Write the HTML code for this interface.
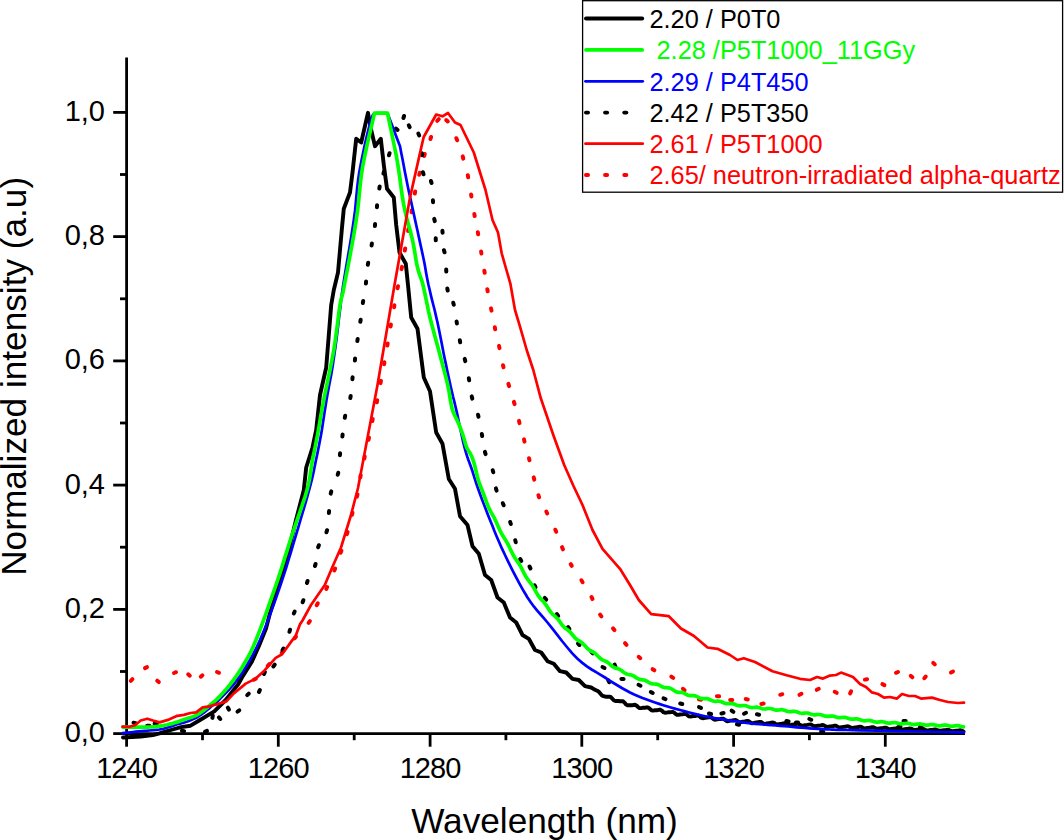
<!DOCTYPE html>
<html><head><meta charset="utf-8"><title>chart</title>
<style>
html,body{margin:0;padding:0;background:#fff;}
body{width:1064px;height:840px;position:relative;overflow:hidden;font-family:"Liberation Sans",sans-serif;color:#000;}
.t{position:absolute;white-space:pre;line-height:1;}
.xt{font-size:29px;top:754.4px;width:100px;text-align:center;letter-spacing:-0.9px;}
.yt{font-size:29px;left:0;width:105px;text-align:right;}
.lg{font-size:25.33px;left:649.5px;}
</style></head><body>
<svg width="1064" height="840" viewBox="0 0 1064 840" style="position:absolute;left:0;top:0"><g stroke="#000" stroke-width="2.8" fill="none"><line x1="126.6" y1="57.4" x2="126.6" y2="735.1"/><line x1="125.1" y1="733.6" x2="965" y2="733.6"/><line x1="126.6" y1="733.6" x2="126.6" y2="746.7"/><line x1="278.3" y1="733.6" x2="278.3" y2="746.7"/><line x1="430.1" y1="733.6" x2="430.1" y2="746.7"/><line x1="581.8" y1="733.6" x2="581.8" y2="746.7"/><line x1="733.6" y1="733.6" x2="733.6" y2="746.7"/><line x1="885.3" y1="733.6" x2="885.3" y2="746.7"/><line x1="202.5" y1="733.6" x2="202.5" y2="740.2"/><line x1="354.2" y1="733.6" x2="354.2" y2="740.2"/><line x1="505.9" y1="733.6" x2="505.9" y2="740.2"/><line x1="657.7" y1="733.6" x2="657.7" y2="740.2"/><line x1="809.4" y1="733.6" x2="809.4" y2="740.2"/><line x1="113.2" y1="733.6" x2="126.6" y2="733.6"/><line x1="113.2" y1="609.4" x2="126.6" y2="609.4"/><line x1="113.2" y1="485.1" x2="126.6" y2="485.1"/><line x1="113.2" y1="360.9" x2="126.6" y2="360.9"/><line x1="113.2" y1="236.6" x2="126.6" y2="236.6"/><line x1="113.2" y1="112.4" x2="126.6" y2="112.4"/><line x1="120" y1="671.5" x2="126.6" y2="671.5"/><line x1="120" y1="547.2" x2="126.6" y2="547.2"/><line x1="120" y1="423.0" x2="126.6" y2="423.0"/><line x1="120" y1="298.8" x2="126.6" y2="298.8"/><line x1="120" y1="174.5" x2="126.6" y2="174.5"/></g><g stroke="#ff0000" stroke-width="4.0" stroke-linecap="round"><line x1="130.8" y1="680.8" x2="132.4" y2="679.2"/><line x1="145.0" y1="668.1" x2="147.0" y2="667.1"/><line x1="157.2" y1="680.7" x2="158.8" y2="682.1"/><line x1="174.0" y1="673.0" x2="176.0" y2="672.2"/><line x1="188.2" y1="674.3" x2="189.8" y2="675.7"/><line x1="200.8" y1="676.7" x2="202.4" y2="675.3"/><line x1="217.0" y1="672.0" x2="219.0" y2="672.8"/><line x1="237.4" y1="679.8" x2="239.6" y2="680.2"/><line x1="253.8" y1="679.7" x2="255.7" y2="678.8"/><line x1="267.7" y1="665.8" x2="269.3" y2="664.2"/><line x1="281.7" y1="652.8" x2="283.3" y2="651.2"/><line x1="294.5" y1="638.3" x2="296.0" y2="636.7"/><line x1="308.6" y1="622.9" x2="309.9" y2="621.1"/><line x1="316.7" y1="605.2" x2="317.8" y2="603.3"/><line x1="326.3" y1="589.0" x2="327.2" y2="587.0"/><line x1="334.3" y1="570.5" x2="335.2" y2="568.5"/><line x1="340.6" y1="552.8" x2="341.4" y2="550.7"/><line x1="346.9" y1="534.1" x2="347.6" y2="531.9"/><line x1="352.0" y1="514.8" x2="352.5" y2="512.7"/><line x1="357.0" y1="496.6" x2="357.5" y2="494.4"/><line x1="360.3" y1="477.3" x2="360.7" y2="475.2"/><line x1="364.3" y1="458.6" x2="364.7" y2="456.4"/><line x1="368.5" y1="439.8" x2="369.0" y2="437.7"/><line x1="372.3" y1="421.1" x2="372.7" y2="418.9"/><line x1="376.8" y1="402.3" x2="377.2" y2="400.2"/><line x1="380.5" y1="383.1" x2="381.0" y2="380.9"/><line x1="384.1" y1="364.3" x2="384.4" y2="362.2"/><line x1="387.3" y1="345.6" x2="387.7" y2="343.4"/><line x1="390.6" y1="326.6" x2="390.9" y2="324.4"/><line x1="394.1" y1="307.3" x2="394.4" y2="305.2"/><line x1="397.5" y1="288.3" x2="398.0" y2="286.2"/><line x1="401.5" y1="269.1" x2="402.0" y2="266.9"/><line x1="404.8" y1="250.6" x2="405.2" y2="248.4"/><line x1="408.1" y1="231.1" x2="408.4" y2="228.9"/><line x1="411.6" y1="212.3" x2="411.9" y2="210.2"/><line x1="414.8" y1="193.6" x2="415.2" y2="191.4"/><line x1="419.2" y1="174.8" x2="419.8" y2="172.7"/><line x1="424.2" y1="156.0" x2="424.8" y2="154.0"/><line x1="430.4" y1="139.0" x2="431.1" y2="137.0"/><line x1="437.2" y1="120.8" x2="438.8" y2="119.2"/><line x1="446.2" y1="120.0" x2="447.8" y2="121.5"/><line x1="456.3" y1="138.2" x2="457.2" y2="140.3"/><line x1="462.7" y1="156.4" x2="463.3" y2="158.6"/><line x1="467.8" y1="175.2" x2="468.2" y2="177.3"/><line x1="471.1" y1="194.4" x2="471.4" y2="196.6"/><line x1="474.3" y1="213.9" x2="474.7" y2="216.1"/><line x1="477.8" y1="232.2" x2="478.2" y2="234.3"/><line x1="481.1" y1="251.4" x2="481.4" y2="253.6"/><line x1="484.3" y1="270.7" x2="484.7" y2="272.8"/><line x1="487.3" y1="289.2" x2="487.7" y2="291.3"/><line x1="491.0" y1="308.4" x2="491.5" y2="310.6"/><line x1="494.8" y1="327.2" x2="495.2" y2="329.3"/><line x1="499.0" y1="345.9" x2="499.5" y2="348.1"/><line x1="503.0" y1="365.2" x2="503.5" y2="367.3"/><line x1="508.4" y1="383.9" x2="509.1" y2="386.1"/><line x1="513.9" y1="401.9" x2="514.6" y2="404.1"/><line x1="519.0" y1="420.9" x2="519.5" y2="423.1"/><line x1="524.0" y1="439.4" x2="524.5" y2="441.6"/><line x1="529.0" y1="458.2" x2="529.5" y2="460.3"/><line x1="533.7" y1="477.4" x2="534.3" y2="479.6"/><line x1="538.4" y1="495.2" x2="539.1" y2="497.3"/><line x1="546.3" y1="511.5" x2="547.2" y2="513.5"/><line x1="555.3" y1="529.7" x2="556.2" y2="531.8"/><line x1="562.0" y1="547.2" x2="563.0" y2="549.3"/><line x1="570.7" y1="564.1" x2="571.8" y2="565.9"/><line x1="581.4" y1="580.3" x2="582.6" y2="582.2"/><line x1="591.5" y1="597.0" x2="592.5" y2="599.0"/><line x1="600.1" y1="614.6" x2="601.4" y2="616.4"/><line x1="613.0" y1="628.4" x2="614.5" y2="630.1"/><line x1="625.0" y1="643.2" x2="626.5" y2="644.8"/><line x1="638.7" y1="656.8" x2="640.3" y2="658.2"/><line x1="652.6" y1="669.2" x2="654.4" y2="670.3"/><line x1="671.3" y1="676.6" x2="673.2" y2="677.9"/><line x1="682.9" y1="688.8" x2="684.6" y2="690.2"/><line x1="698.9" y1="699.3" x2="701.1" y2="699.7"/><line x1="716.9" y1="696.2" x2="719.1" y2="696.3"/><line x1="730.2" y1="699.9" x2="732.3" y2="700.1"/><line x1="745.7" y1="699.1" x2="747.8" y2="699.4"/><line x1="761.4" y1="703.9" x2="763.6" y2="703.6"/><line x1="780.2" y1="694.8" x2="782.3" y2="694.2"/><line x1="799.5" y1="694.8" x2="801.5" y2="693.8"/><line x1="816.8" y1="689.8" x2="818.8" y2="688.8"/><line x1="834.7" y1="691.8" x2="836.7" y2="692.8"/><line x1="850.1" y1="693.4" x2="851.1" y2="691.4"/><line x1="864.9" y1="679.6" x2="867.1" y2="679.2"/><line x1="882.4" y1="684.1" x2="884.4" y2="685.1"/><line x1="896.0" y1="672.8" x2="898.0" y2="672.0"/><line x1="910.8" y1="675.9" x2="912.4" y2="677.3"/><line x1="924.3" y1="678.2" x2="925.7" y2="676.6"/><line x1="933.2" y1="662.8" x2="934.8" y2="664.4"/><line x1="951.0" y1="672.5" x2="953.0" y2="671.5"/></g><g stroke="#000" stroke-width="4.0" stroke-linecap="round"><line x1="133.5" y1="722.7" x2="135.7" y2="723.1"/><line x1="147.1" y1="725.7" x2="149.3" y2="725.7"/><line x1="154.6" y1="723.6" x2="156.8" y2="724.0"/><line x1="181.9" y1="730.7" x2="184.1" y2="731.1"/><line x1="205.0" y1="731.9" x2="207.0" y2="730.9"/><line x1="212.4" y1="717.9" x2="212.8" y2="715.7"/><line x1="218.9" y1="717.4" x2="220.3" y2="719.0"/><line x1="227.8" y1="707.6" x2="229.0" y2="709.6"/><line x1="237.5" y1="711.6" x2="239.3" y2="710.4"/><line x1="247.2" y1="695.2" x2="248.8" y2="693.6"/><line x1="258.9" y1="692.0" x2="259.9" y2="690.0"/><line x1="263.9" y1="674.0" x2="264.9" y2="672.0"/><line x1="273.3" y1="666.5" x2="274.7" y2="664.7"/><line x1="282.5" y1="650.5" x2="283.5" y2="648.5"/><line x1="289.4" y1="631.8" x2="290.1" y2="629.7"/><line x1="293.8" y1="613.5" x2="294.7" y2="611.5"/><line x1="302.6" y1="602.3" x2="303.4" y2="600.2"/><line x1="306.9" y1="583.0" x2="307.6" y2="581.0"/><line x1="314.9" y1="566.0" x2="315.6" y2="564.0"/><line x1="318.1" y1="547.3" x2="318.9" y2="545.2"/><line x1="326.4" y1="532.3" x2="327.1" y2="530.2"/><line x1="328.9" y1="513.1" x2="329.1" y2="510.9"/><line x1="330.7" y1="493.6" x2="331.3" y2="491.4"/><line x1="337.7" y1="474.8" x2="338.3" y2="472.7"/><line x1="339.9" y1="455.3" x2="340.1" y2="453.2"/><line x1="342.4" y1="436.6" x2="342.6" y2="434.4"/><line x1="344.8" y1="417.8" x2="345.2" y2="415.7"/><line x1="350.3" y1="398.1" x2="350.7" y2="395.9"/><line x1="352.4" y1="379.3" x2="352.6" y2="377.2"/><line x1="354.9" y1="360.6" x2="355.1" y2="358.4"/><line x1="357.3" y1="341.1" x2="357.7" y2="338.9"/><line x1="360.3" y1="321.8" x2="360.7" y2="319.7"/><line x1="362.8" y1="303.1" x2="363.2" y2="300.9"/><line x1="365.9" y1="283.6" x2="366.1" y2="281.4"/><line x1="367.8" y1="264.8" x2="368.2" y2="262.7"/><line x1="371.6" y1="245.6" x2="371.9" y2="243.4"/><line x1="374.9" y1="226.1" x2="375.1" y2="223.9"/><line x1="376.9" y1="207.3" x2="377.1" y2="205.2"/><line x1="379.3" y1="188.6" x2="379.7" y2="186.4"/><line x1="383.4" y1="173.6" x2="384.1" y2="171.4"/><line x1="388.9" y1="155.3" x2="389.6" y2="153.2"/><line x1="395.9" y1="128.5" x2="397.6" y2="130.0"/><line x1="403.4" y1="118.0" x2="404.1" y2="116.0"/><line x1="408.8" y1="125.3" x2="409.7" y2="127.2"/><line x1="418.3" y1="133.5" x2="419.2" y2="135.5"/><line x1="421.9" y1="153.2" x2="422.1" y2="155.3"/><line x1="422.9" y1="172.2" x2="423.6" y2="174.3"/><line x1="430.9" y1="181.0" x2="431.6" y2="183.0"/><line x1="432.9" y1="200.2" x2="433.1" y2="202.3"/><line x1="434.2" y1="218.9" x2="434.8" y2="221.1"/><line x1="442.4" y1="230.7" x2="442.6" y2="232.8"/><line x1="435.7" y1="238.2" x2="435.8" y2="240.3"/><line x1="443.9" y1="250.2" x2="444.6" y2="252.3"/><line x1="446.2" y1="269.4" x2="446.3" y2="271.6"/><line x1="447.3" y1="288.4" x2="447.7" y2="290.6"/><line x1="453.2" y1="302.7" x2="453.8" y2="304.8"/><line x1="456.6" y1="321.4" x2="456.9" y2="323.6"/><line x1="459.8" y1="340.2" x2="460.2" y2="342.3"/><line x1="464.7" y1="358.9" x2="465.3" y2="361.1"/><line x1="468.8" y1="378.2" x2="469.2" y2="380.3"/><line x1="471.7" y1="396.4" x2="472.3" y2="398.6"/><line x1="478.0" y1="414.7" x2="478.5" y2="416.8"/><line x1="481.8" y1="433.9" x2="482.2" y2="436.1"/><line x1="484.9" y1="451.9" x2="485.6" y2="454.1"/><line x1="492.7" y1="470.2" x2="493.3" y2="472.3"/><line x1="495.9" y1="488.4" x2="496.6" y2="490.6"/><line x1="502.8" y1="503.2" x2="503.7" y2="505.3"/><line x1="510.2" y1="522.0" x2="510.8" y2="524.0"/><line x1="515.2" y1="540.2" x2="515.8" y2="542.3"/><line x1="520.2" y1="559.0" x2="521.3" y2="561.0"/><line x1="529.5" y1="566.5" x2="530.5" y2="568.5"/><line x1="534.5" y1="585.3" x2="535.5" y2="587.2"/><line x1="544.8" y1="597.9" x2="546.2" y2="599.6"/><line x1="556.8" y1="614.1" x2="558.2" y2="615.9"/><line x1="568.1" y1="627.1" x2="569.4" y2="628.9"/><line x1="578.0" y1="643.5" x2="579.5" y2="645.0"/><line x1="591.2" y1="651.7" x2="592.8" y2="653.3"/><line x1="602.5" y1="667.0" x2="604.5" y2="668.0"/><line x1="614.6" y1="664.5" x2="615.4" y2="666.5"/><line x1="608.2" y1="680.3" x2="609.3" y2="682.2"/><line x1="621.4" y1="678.9" x2="623.6" y2="679.1"/><line x1="638.5" y1="684.8" x2="640.5" y2="685.7"/><line x1="650.8" y1="692.0" x2="652.7" y2="693.0"/><line x1="663.5" y1="698.4" x2="665.5" y2="699.1"/><line x1="680.2" y1="703.5" x2="682.3" y2="704.0"/><line x1="699.0" y1="707.1" x2="701.0" y2="707.9"/><line x1="708.9" y1="713.5" x2="711.1" y2="714.0"/><line x1="721.4" y1="713.4" x2="723.6" y2="713.1"/><line x1="731.6" y1="710.6" x2="733.4" y2="711.9"/><line x1="736.9" y1="724.3" x2="739.1" y2="724.7"/><line x1="744.0" y1="713.7" x2="746.0" y2="712.8"/><line x1="756.9" y1="714.3" x2="759.1" y2="714.7"/><line x1="786.4" y1="721.0" x2="788.6" y2="721.5"/><line x1="795.9" y1="722.6" x2="798.1" y2="722.4"/><line x1="809.3" y1="719.0" x2="811.3" y2="719.8"/><line x1="821.1" y1="731.5" x2="823.3" y2="731.7"/><line x1="898.3" y1="727.1" x2="900.5" y2="726.9"/><line x1="903.5" y1="721.0" x2="905.7" y2="721.0"/><line x1="920.0" y1="727.0" x2="922.0" y2="727.8"/></g><polyline points="123.0,737.5 140.7,736.5 152.9,735.1 159.5,733.4 172.6,729.5 181.1,727.1 190.5,725.7 200.0,720.0 214.3,711.4 225.7,700.0 238.2,684.3 242.3,677.1 252.0,661.4 259.0,645.7 266.0,628.6 270.0,613.0 279.0,585.0 288.0,553.0 296.0,520.0 303.8,490.0 306.2,467.5 312.5,447.5 316.2,430.0 320.0,395.0 326.2,367.5 328.8,335.0 331.2,305.0 333.8,290.0 338.0,272.5 342.0,227.5 343.8,208.8 350.0,192.5 352.5,172.5 356.2,138.8 361.2,142.5 368.0,112.8 371.2,130.0 375.0,146.2 380.8,138.8 383.8,165.0 387.0,188.8 393.8,197.5 396.2,225.0 399.5,252.5 405.8,263.8 408.0,285.0 411.2,317.5 417.5,328.8 423.8,377.5 430.0,391.2 436.2,432.5 442.5,443.8 448.8,479.0 455.0,488.8 460.0,516.2 467.5,525.0 472.5,546.2 478.8,553.8 485.0,575.0 491.2,580.0 497.5,597.5 503.8,602.5 510.0,617.5 516.2,622.5 522.5,635.0 528.8,638.8 535.0,650.0 541.2,652.5 547.5,661.2 553.8,663.8 560.0,671.2 566.2,672.5 572.5,678.8 578.8,680.0 585.0,686.2 591.2,687.5 593.0,688.6 594.5,689.5 596.0,690.3 597.5,690.9 599.0,691.9 600.5,693.7 602.0,695.5 603.5,696.2 605.0,696.5 606.5,696.7 608.0,696.8 609.5,696.7 611.0,697.2 612.5,698.9 614.0,700.5 615.5,701.0 617.0,700.9 618.5,701.0 620.0,701.2 621.5,701.1 623.0,701.3 624.5,702.6 626.0,704.4 627.5,705.3 629.0,705.3 630.5,705.2 632.0,705.3 633.5,705.0 635.0,704.8 636.5,705.5 638.0,707.0 639.5,708.1 641.0,708.1 642.5,707.8 644.0,707.8 645.5,707.7 647.0,707.3 648.5,707.7 650.0,709.0 651.5,710.3 653.0,710.6 654.5,710.3 656.0,710.2 657.5,710.2 659.0,709.8 660.5,709.8 662.0,710.8 663.5,712.2 665.0,712.8 666.5,712.6 668.0,712.3 669.5,712.3 671.0,712.1 672.5,711.9 674.0,712.5 675.5,713.9 677.0,714.9 678.5,714.8 680.0,714.5 681.5,714.4 683.0,714.2 684.5,713.8 686.0,714.0 687.5,715.2 689.0,716.4 690.5,716.6 692.0,716.2 693.5,716.0 695.0,716.0 696.5,715.6 698.0,715.5 699.5,716.4 701.0,717.7 702.5,718.2 704.0,718.0 705.5,717.7 707.0,717.6 708.5,717.3 710.0,717.0 711.5,717.6 713.0,718.8 714.5,719.7 716.0,719.6 717.5,719.2 719.0,719.1 720.5,719.0 722.0,718.6 723.5,718.8 725.0,719.9 726.5,721.0 728.0,721.2 729.5,720.8 731.0,720.6 732.5,720.5 734.0,720.1 735.5,719.9 737.0,720.7 738.5,721.9 740.0,722.3 741.5,722.0 743.0,721.7 744.5,721.6 746.0,721.2 747.5,720.9 749.0,721.4 750.5,722.5 752.0,723.2 753.5,723.1 755.0,722.7 756.5,722.5 758.0,722.3 759.5,721.9 761.0,721.9 762.5,722.9 764.0,723.8 765.5,723.9 767.0,723.4 768.5,723.2 770.0,723.0 771.5,722.6 773.0,722.5 774.5,723.1 776.0,724.2 777.5,724.6 779.0,724.2 780.5,723.9 782.0,723.7 783.5,723.4 785.0,723.1 786.5,723.5 788.0,724.5 789.5,725.1 791.0,725.0 792.5,724.6 794.0,724.4 795.5,724.2 797.0,723.8 798.5,723.9 800.0,724.8 801.5,725.6 803.0,725.7 804.5,725.3 806.0,725.1 807.5,724.9 809.0,724.6 810.5,724.4 812.0,725.0 813.5,726.0 815.0,726.4 816.5,726.0 818.0,725.7 819.5,725.6 821.0,725.3 822.5,725.0 824.0,725.4 825.5,726.3 827.0,726.9 828.5,726.8 830.0,726.4 831.5,726.3 833.0,726.1 834.5,725.7 836.0,725.8 837.5,726.6 839.0,727.4 840.5,727.5 842.0,727.1 843.5,726.9 845.0,726.8 846.5,726.4 848.0,726.3 849.5,726.8 851.0,727.7 852.5,728.0 854.0,727.7 855.5,727.4 857.0,727.3 858.5,727.0 860.0,726.7 861.5,727.0 863.0,727.9 864.5,728.4 866.0,728.2 867.5,727.9 869.0,727.8 870.5,727.6 872.0,727.2 873.5,727.3 875.0,728.0 876.5,728.7 878.0,728.8 879.5,728.4 881.0,728.2 882.5,728.1 884.0,727.8 885.5,727.6 887.0,728.1 888.5,728.9 890.0,729.2 891.5,728.9 893.0,728.7 894.5,728.6 896.0,728.3 897.5,728.0 899.0,728.3 900.5,729.1 902.0,729.6 903.5,729.5 905.0,729.2 906.5,729.0 908.0,728.9 909.5,728.5 911.0,728.6 912.5,729.3 914.0,729.9 915.5,730.0 917.0,729.7 918.5,729.5 920.0,729.4 921.5,729.1 923.0,729.0 924.5,729.4 926.0,730.2 927.5,730.4 929.0,730.2 930.5,729.9 932.0,729.9 933.5,729.6 935.0,729.4 936.5,729.7 938.0,730.4 939.5,730.8 941.0,730.7 942.5,730.4 944.0,730.3 945.5,730.2 947.0,729.9 948.5,729.9 950.0,730.5 951.5,731.1 953.0,731.2 954.5,730.9 956.0,730.8 957.5,730.7 959.0,730.4 960.5,730.3 962.0,730.7 963.5,731.4" fill="none" stroke="#000" stroke-width="3.9" stroke-linejoin="round" stroke-linecap="round"/><polyline points="122.5,733.2 125.2,732.9 127.8,732.6 130.4,732.3 133.0,732.0 135.8,731.7 138.8,731.4 142.1,731.1 145.8,730.8 149.6,730.5 153.3,730.2 156.7,729.8 159.5,729.5 161.7,729.1 163.5,728.8 165.0,728.4 166.3,727.9 167.5,727.5 168.9,727.1 170.4,726.7 171.8,726.2 173.2,725.7 174.5,725.2 175.9,724.7 177.3,724.3 178.7,723.9 180.1,723.6 181.5,723.2 182.9,722.9 184.3,722.5 185.8,722.0 187.3,721.5 188.9,720.9 190.6,720.3 192.2,719.6 193.7,718.9 195.2,718.2 196.6,717.5 197.8,716.8 199.1,716.0 200.3,715.2 201.5,714.4 202.7,713.5 203.9,712.6 205.1,711.7 206.3,710.7 207.5,709.7 208.8,708.6 210.2,707.4 211.6,706.3 212.9,705.3 214.3,704.2 215.9,702.9 217.7,701.2 220.0,698.9 222.7,696.1 225.9,692.8 229.4,689.2 233.0,685.1 236.5,680.7 240.0,676.0 243.3,671.0 246.6,665.7 250.0,660.0 253.3,653.9 256.6,647.3 260.0,640.0 263.4,631.9 267.0,622.9 270.5,613.4 274.0,603.7 277.4,594.1 280.5,585.0 283.4,576.4 286.1,568.0 288.6,559.7 291.1,551.5 293.5,543.3 296.0,535.0 298.6,526.4 301.2,517.4 303.9,508.4 306.4,499.8 308.6,491.9 310.5,485.0 311.9,479.4 313.0,474.8 313.8,470.9 314.5,467.4 315.2,463.9 316.0,460.0 316.9,455.9 317.7,452.0 318.5,448.1 319.3,444.1 320.1,439.7 321.0,435.0 321.9,429.7 322.8,423.9 323.7,417.8 324.6,411.7 325.6,405.7 326.5,400.0 327.4,394.7 328.4,389.5 329.3,384.5 330.3,379.6 331.2,374.8 332.0,370.0 332.8,365.3 333.4,360.8 334.1,356.4 334.7,351.9 335.4,347.3 336.0,342.5 336.7,337.3 337.4,331.7 338.1,326.0 338.7,320.3 339.4,314.9 340.0,310.0 340.5,306.1 340.8,303.3 341.0,300.7 341.4,297.6 342.0,293.3 342.9,287.0 344.3,278.2 346.1,267.2 348.2,255.1 350.3,242.6 352.2,230.6 353.8,220.0 355.0,210.9 355.8,202.7 356.5,195.1 357.2,187.6 358.1,180.0 359.3,172.0 361.0,163.0 363.0,153.3 365.1,143.4 367.3,134.1 369.3,126.1 371.0,120.0 372.3,116.2 373.4,114.3 374.4,113.7 375.2,113.7 376.1,113.6 377.0,113.0 378.8,113.0 380.5,113.1 382.2,113.2 384.0,113.2 385.8,113.2 387.5,113.3 389.6,118.8 391.7,124.3 393.8,129.8 395.8,135.3 397.9,140.8 400.0,146.2 401.2,152.7 402.5,159.1 403.7,165.5 404.9,172.0 406.2,178.5 407.5,185.0 408.9,191.7 410.4,198.4 411.9,205.2 413.4,212.0 414.8,218.6 416.2,225.0 417.6,231.2 418.9,237.4 420.2,243.4 421.5,249.3 422.7,254.8 423.8,260.0 424.7,264.6 425.4,268.6 426.0,272.3 426.7,276.1 427.5,280.2 428.5,285.0 429.8,290.5 431.2,296.6 432.8,303.0 434.5,309.5 436.0,316.1 437.5,322.5 438.8,328.8 440.1,335.3 441.4,341.7 442.6,348.1 443.8,354.2 445.0,360.0 446.2,365.5 447.3,370.9 448.4,376.1 449.5,381.0 450.5,385.7 451.5,390.0 452.4,393.7 453.1,396.8 453.8,399.5 454.5,402.4 455.3,405.8 456.3,410.0 457.5,415.4 458.8,421.8 460.3,428.7 461.8,435.6 463.2,442.1 464.6,447.7 465.9,452.4 467.2,456.5 468.5,460.3 469.8,463.7 471.0,467.0 472.1,470.2 473.0,473.1 473.8,475.6 474.5,477.9 475.3,480.4 476.2,483.3 477.5,487.0 479.1,491.5 481.0,496.7 483.1,502.4 485.4,508.3 487.7,514.2 490.0,520.0 492.3,525.6 494.5,531.2 496.9,536.9 499.4,542.7 502.0,548.7 505.0,555.0 508.3,561.9 512.0,569.3 515.9,576.9 519.9,584.4 523.8,591.3 527.5,597.5 530.9,602.5 534.0,606.7 537.0,610.4 540.2,614.0 543.6,617.9 547.5,622.5 552.0,628.1 556.9,634.4 562.0,641.0 567.3,647.5 572.5,653.6 577.5,658.8 582.3,662.9 586.9,666.4 591.6,669.5 596.1,672.2 600.6,674.8 605.0,677.5 609.3,680.3 613.5,683.0 617.7,685.5 621.8,688.0 625.9,690.3 630.0,692.5 634.2,694.5 638.3,696.3 642.5,698.0 646.7,699.5 650.8,701.0 655.0,702.5 659.2,703.9 663.3,705.2 667.5,706.5 671.7,707.7 675.8,708.9 680.0,710.0 684.2,711.1 688.3,712.2 692.5,713.3 696.7,714.4 700.8,715.3 705.0,716.2 709.2,717.1 713.3,717.9 717.5,718.6 721.7,719.2 725.8,719.9 730.0,720.5 734.2,721.1 738.3,721.7 742.5,722.3 746.7,722.8 750.8,723.3 755.0,723.8 759.2,724.2 763.3,724.5 767.5,724.8 771.7,725.1 775.8,725.4 780.0,725.8 784.2,726.1 788.3,726.5 792.5,726.9 796.7,727.3 800.8,727.7 805.0,728.0 809.3,728.3 813.7,728.6 818.1,728.9 822.3,729.1 826.4,729.3 830.0,729.5 832.0,729.6 832.2,729.7 832.2,729.7 833.4,729.7 837.5,729.8 846.0,730.0 859.8,730.3 877.8,730.7 898.6,731.1 920.9,731.5 943.2,732.0 964.0,732.4" fill="none" stroke="#0000ff" stroke-width="2.7" stroke-linejoin="round" stroke-linecap="round"/><polyline points="122.9,727.1 124.9,727.1 126.9,727.1 128.9,727.2 130.9,727.2 132.9,727.2 135.0,727.2 137.2,727.2 139.4,727.2 141.6,727.2 143.9,727.2 146.1,727.2 148.2,727.1 150.2,727.0 152.2,726.9 154.1,726.8 155.9,726.6 157.7,726.4 159.5,726.2 161.2,725.9 162.8,725.7 164.4,725.3 165.9,725.0 167.4,724.7 168.9,724.3 170.4,723.9 171.8,723.6 173.2,723.2 174.5,722.8 175.9,722.4 177.3,722.0 178.7,721.6 180.1,721.1 181.5,720.6 182.9,720.1 184.3,719.6 185.8,719.1 187.3,718.6 188.9,718.1 190.6,717.6 192.2,717.0 193.7,716.4 195.2,715.8 196.6,715.1 197.8,714.4 199.1,713.6 200.3,712.8 201.5,712.0 202.7,711.1 203.9,710.2 205.1,709.3 206.3,708.3 207.5,707.3 208.8,706.2 210.2,705.0 211.7,703.7 213.2,702.4 214.8,701.1 216.5,699.6 218.2,697.9 220.0,696.1 221.9,694.1 223.8,691.9 225.9,689.6 227.9,687.2 230.0,684.6 232.0,682.0 234.0,679.3 236.0,676.5 238.0,673.6 240.0,670.6 242.0,667.4 244.0,664.0 245.9,660.7 247.7,657.6 249.5,654.3 251.4,650.5 253.5,645.9 256.0,640.0 258.9,632.6 262.2,623.8 265.8,614.1 269.3,604.1 272.8,594.2 276.0,585.0 278.9,576.3 281.7,567.8 284.3,559.4 286.9,551.1 289.4,543.0 292.0,535.0 294.7,527.0 297.4,519.1 300.2,511.2 302.7,503.7 305.1,496.6 307.0,490.0 308.5,484.1 309.6,478.7 310.4,473.8 311.1,469.1 311.7,464.5 312.5,460.0 313.3,455.7 314.2,451.7 315.0,447.8 315.8,443.9 316.6,439.7 317.5,435.0 318.5,429.7 319.5,423.9 320.5,417.8 321.6,411.7 322.7,405.7 323.8,400.0 324.8,394.7 325.9,389.5 327.0,384.5 328.0,379.6 329.0,374.8 330.0,370.0 330.9,365.4 331.8,361.0 332.6,356.7 333.4,352.3 334.2,347.6 335.0,342.5 335.8,336.6 336.7,330.0 337.6,323.2 338.4,316.4 339.2,310.2 340.0,305.0 340.6,301.4 341.1,299.4 341.5,297.8 342.1,295.9 342.9,292.6 344.0,287.0 345.6,278.5 347.7,267.8 350.0,255.7 352.3,243.1 354.5,230.9 356.2,220.0 357.6,210.4 358.6,201.5 359.4,193.0 360.2,184.6 361.2,176.2 362.5,167.5 364.2,158.5 366.1,149.5 368.1,140.4 370.3,131.3 372.4,122.2 374.5,113.1 376.7,113.1 378.8,113.1 381.0,113.1 383.2,113.1 385.3,113.1 387.5,113.1 389.2,121.4 391.0,129.8 392.7,138.2 394.4,146.5 396.1,154.7 397.5,162.5 398.7,170.1 399.8,177.5 400.7,184.7 401.6,191.6 402.6,198.4 403.8,205.0 405.1,211.4 406.6,217.5 408.2,223.4 409.8,229.2 411.2,234.7 412.5,240.0 413.5,245.1 414.4,250.1 415.2,254.8 415.9,259.4 416.7,263.6 417.5,267.5 418.4,270.8 419.2,273.5 420.1,275.9 421.0,278.4 422.0,281.3 423.0,285.0 424.0,289.5 425.1,294.5 426.2,300.0 427.4,305.7 428.6,311.6 430.0,317.5 431.5,323.5 433.2,329.8 434.9,336.2 436.7,342.7 438.4,349.0 440.0,355.0 441.5,360.7 443.0,366.3 444.5,371.9 446.0,377.7 447.5,384.0 449.0,391.2 450.5,400.9 452.0,408.4 453.5,412.8 455.0,416.1 456.5,419.1 458.0,422.3 459.5,425.8 461.0,429.6 462.5,433.8 464.0,438.6 465.5,444.1 467.0,448.1 468.5,450.7 470.0,453.1 471.5,456.0 473.0,459.7 474.5,464.6 476.0,471.0 477.5,477.2 479.0,482.1 480.5,486.1 482.0,489.9 483.5,493.9 485.0,498.0 486.5,502.1 488.0,505.9 489.5,509.2 491.0,512.1 492.5,514.8 494.0,517.4 495.5,520.5 497.0,523.7 498.5,527.2 500.0,530.5 501.5,533.5 503.0,536.1 504.5,538.4 506.0,540.8 507.5,543.4 509.0,546.3 510.5,549.5 512.0,552.7 513.5,555.5 515.0,558.0 516.5,560.2 518.0,562.3 519.5,564.6 521.0,567.2 522.5,570.1 524.0,573.1 525.5,575.9 527.0,578.3 528.5,580.4 530.0,582.3 531.5,584.3 533.0,586.5 534.5,589.1 536.0,591.9 537.5,594.4 539.0,596.7 540.5,598.6 542.0,600.1 543.5,601.8 545.0,603.6 546.5,605.7 548.0,608.1 549.5,610.4 551.0,612.4 552.5,614.1 554.0,615.4 555.5,616.7 557.0,618.2 558.5,619.9 560.0,622.0 561.5,624.1 563.0,626.0 564.5,627.5 566.0,628.8 567.5,629.8 569.0,631.0 570.5,632.4 572.0,634.2 573.5,636.0 575.0,637.8 576.5,639.2 578.0,640.3 579.5,641.2 581.0,642.1 582.5,643.2 584.0,644.7 585.5,646.3 587.0,648.0 588.5,649.4 590.0,650.5 591.5,651.3 593.0,652.0 594.5,652.9 596.0,654.2 597.5,655.7 599.0,657.2 600.5,658.6 602.0,659.7 603.5,660.4 605.0,661.0 606.5,661.7 608.0,662.6 609.5,663.9 611.0,665.3 612.5,666.5 614.0,667.5 615.5,668.1 617.0,668.5 618.5,668.9 620.0,669.6 621.5,670.5 623.0,671.7 624.5,672.8 626.0,673.7 627.5,674.3 629.0,674.6 630.5,674.8 632.0,675.2 633.5,675.9 635.0,676.9 636.5,677.9 638.0,678.8 639.5,679.4 641.0,679.6 642.5,679.8 644.0,680.0 645.5,680.5 647.0,681.3 648.5,682.3 650.0,683.1 651.5,683.7 653.0,683.9 654.5,684.0 656.0,684.1 657.5,684.4 659.0,685.0 660.5,685.9 662.0,686.7 663.5,687.3 665.0,687.7 666.5,687.7 668.0,687.8 669.5,688.0 671.0,688.6 672.5,689.5 674.0,690.5 675.5,691.5 677.0,692.1 678.5,692.3 680.0,692.3 681.5,692.4 683.0,692.8 684.5,693.4 686.0,694.3 687.5,695.0 689.0,695.5 690.5,695.6 692.0,695.6 693.5,695.6 695.0,695.8 696.5,696.4 698.0,697.1 699.5,697.9 701.0,698.4 702.5,698.6 704.0,698.6 705.5,698.5 707.0,698.6 708.5,699.0 710.0,699.7 711.5,700.4 713.0,701.0 714.5,701.3 716.0,701.3 717.5,701.2 719.0,701.2 720.5,701.5 722.0,702.0 723.5,702.7 725.0,703.3 726.5,703.7 728.0,703.7 729.5,703.6 731.0,703.5 732.5,703.6 734.0,704.0 735.5,704.7 737.0,705.3 738.5,705.7 740.0,705.8 741.5,705.7 743.0,705.5 744.5,705.5 746.0,705.8 747.5,706.4 749.0,707.0 750.5,707.4 752.0,707.6 753.5,707.5 755.0,707.3 756.5,707.2 758.0,707.3 759.5,707.7 761.0,708.3 762.5,708.8 764.0,709.0 765.5,708.9 767.0,708.7 768.5,708.5 770.0,708.5 771.5,708.8 773.0,709.3 774.5,709.8 776.0,710.1 777.5,710.1 779.0,710.0 780.5,709.7 782.0,709.7 783.5,710.0 785.0,710.5 786.5,711.1 788.0,711.5 789.5,711.7 791.0,711.6 792.5,711.4 794.0,711.3 795.5,711.5 797.0,711.9 798.5,712.5 800.0,713.0 801.5,713.3 803.0,713.3 804.5,713.1 806.0,713.0 807.5,713.0 809.0,713.4 810.5,713.9 812.0,714.5 813.5,714.8 815.0,714.9 816.5,714.7 818.0,714.5 819.5,714.5 821.0,714.8 822.5,715.2 824.0,715.8 825.5,716.2 827.0,716.4 828.5,716.3 830.0,716.1 831.5,716.0 833.0,716.1 834.5,716.5 836.0,717.0 837.5,717.5 839.0,717.7 840.5,717.7 842.0,717.5 843.5,717.3 845.0,717.4 846.5,717.7 848.0,718.2 849.5,718.8 851.0,719.1 852.5,719.2 854.0,719.1 855.5,718.9 857.0,718.9 858.5,719.2 860.0,719.6 861.5,720.2 863.0,720.6 864.5,720.8 866.0,720.7 867.5,720.5 869.0,720.4 870.5,720.6 872.0,721.0 873.5,721.5 875.0,721.9 876.5,722.1 878.0,722.1 879.5,721.9 881.0,721.7 882.5,721.7 884.0,722.0 885.5,722.4 887.0,722.9 888.5,723.1 890.0,723.1 891.5,722.9 893.0,722.7 894.5,722.6 896.0,722.7 897.5,723.1 899.0,723.5 900.5,723.8 902.0,723.9 903.5,723.7 905.0,723.5 906.5,723.3 908.0,723.3 909.5,723.6 911.0,724.1 912.5,724.4 914.0,724.6 915.5,724.4 917.0,724.2 918.5,724.0 920.0,723.9 921.5,724.2 923.0,724.5 924.5,724.9 926.0,725.2 927.5,725.1 929.0,724.9 930.5,724.6 932.0,724.5 933.5,724.7 935.0,725.0 936.5,725.4 938.0,725.7 939.5,725.8 941.0,725.6 942.5,725.3 944.0,725.1 945.5,725.2 947.0,725.4 948.5,725.8 950.0,726.2 951.5,726.3 953.0,726.2 954.5,725.9 956.0,725.7 957.5,725.7 959.0,725.9 960.5,726.3 962.0,726.6 963.5,726.8" fill="none" stroke="#00ff00" stroke-width="3.7" stroke-linejoin="round" stroke-linecap="round"/><polyline points="122.5,726.7 129.4,726.8 135.0,725.2 140.7,720.5 147.3,718.7 152.9,720.5 159.5,722.4 168.9,719.6 177.3,715.8 183.9,714.9 190.5,713.0 196.1,712.4 202.7,707.4 208.3,706.7 214.9,704.6 217.1,704.3 226.4,701.4 232.9,694.3 245.7,683.6 255.7,678.6 264.3,670.7 275.7,657.9 282.1,654.3 291.4,641.4 295.7,635.7 300.0,624.3 302.5,620.5 311.0,605.0 324.8,585.0 332.2,567.5 341.0,547.5 351.0,515.0 358.0,488.0 377.5,385.0 394.5,285.0 410.0,197.5 421.3,147.4 423.7,137.0 436.2,114.5 442.5,116.3 448.0,113.0 455.0,122.5 460.5,125.0 473.8,152.5 485.5,190.0 492.5,220.0 498.0,232.5 501.7,253.3 505.0,265.0 510.3,283.3 515.0,310.0 520.0,326.7 526.7,350.0 533.3,370.0 540.8,398.3 553.3,435.0 564.2,465.0 573.5,486.0 582.5,505.0 592.5,530.0 602.5,548.8 620.0,568.8 630.0,585.0 638.8,600.0 651.2,614.2 668.8,616.2 681.0,628.5 694.0,636.0 707.5,647.5 717.5,648.8 730.0,655.0 737.5,660.0 743.8,658.2 755.0,662.0 772.5,671.2 787.5,675.5 800.0,678.8 810.0,680.0 817.0,677.0 823.0,678.6 830.0,675.6 836.0,675.0 841.0,672.6 853.0,677.0 860.0,684.0 866.0,687.0 872.0,692.4 878.0,694.0 884.0,697.6 890.0,697.0 897.0,698.6 902.0,694.0 909.0,696.0 915.0,696.0 921.0,698.6 932.0,697.6 940.0,700.0 948.0,702.0 958.0,703.0 964.0,702.6" fill="none" stroke="#ff0000" stroke-width="2.7" stroke-linejoin="round" stroke-linecap="round"/><rect x="582.6" y="0.7" width="480" height="191.5" fill="#fff" stroke="#000" stroke-width="1.3"/><line x1="586" y1="18.5" x2="642.2" y2="18.5" stroke="#000" stroke-width="3.9" stroke-linecap="round"/><line x1="586" y1="49.9" x2="642.2" y2="49.9" stroke="#00ff00" stroke-width="3.7" stroke-linecap="round"/><line x1="585.5" y1="81.3" x2="642.7" y2="81.3" stroke="#0000ff" stroke-width="2.8" stroke-linecap="round"/><line x1="585.5" y1="143.7" x2="642.7" y2="143.7" stroke="#ff0000" stroke-width="2.8" stroke-linecap="round"/><line x1="585.9" y1="112.6" x2="588.1" y2="112.6" stroke="#000" stroke-width="3.8" stroke-linecap="round"/><line x1="605.0" y1="112.6" x2="607.2" y2="112.6" stroke="#000" stroke-width="3.8" stroke-linecap="round"/><line x1="624.1999999999999" y1="112.6" x2="626.4" y2="112.6" stroke="#000" stroke-width="3.8" stroke-linecap="round"/><line x1="585.9" y1="175.0" x2="588.1" y2="175.0" stroke="#ff0000" stroke-width="3.8" stroke-linecap="round"/><line x1="605.0" y1="175.0" x2="607.2" y2="175.0" stroke="#ff0000" stroke-width="3.8" stroke-linecap="round"/><line x1="624.1999999999999" y1="175.0" x2="626.4" y2="175.0" stroke="#ff0000" stroke-width="3.8" stroke-linecap="round"/></svg>
<div class="t xt" style="left:76.6px">1240</div>
<div class="t xt" style="left:228.3px">1260</div>
<div class="t xt" style="left:380.1px">1280</div>
<div class="t xt" style="left:531.8px">1300</div>
<div class="t xt" style="left:683.6px">1320</div>
<div class="t xt" style="left:835.3px">1340</div>
<div class="t yt" style="top:718.1px">0,0</div>
<div class="t yt" style="top:593.9px">0,2</div>
<div class="t yt" style="top:469.6px">0,4</div>
<div class="t yt" style="top:345.4px">0,6</div>
<div class="t yt" style="top:221.1px">0,8</div>
<div class="t yt" style="top:96.9px">1,0</div>
<div class="t" style="font-size:35.2px;left:411.2px;top:802.6px;">Wavelength (nm)</div>
<div class="t" style="font-size:35.2px;left:0;top:0;transform-origin:0 0;transform:translate(-4.5px,575.8px) rotate(-90deg);">Normalized intensity (a.u)</div>
<div class="t lg" style="top:6.8px;color:#000">2.20 / P0T0</div>
<div class="t lg" style="top:38.2px;color:#00ff00"> 2.28 /P5T1000_11GGy</div>
<div class="t lg" style="top:69.6px;color:#0000ff">2.29 / P4T450</div>
<div class="t lg" style="top:100.9px;color:#000">2.42 / P5T350</div>
<div class="t lg" style="top:132.0px;color:#ff0000">2.61 / P5T1000</div>
<div class="t lg" style="top:163.3px;color:#ff0000">2.65/ neutron-irradiated alpha-quartz</div>
</body></html>
